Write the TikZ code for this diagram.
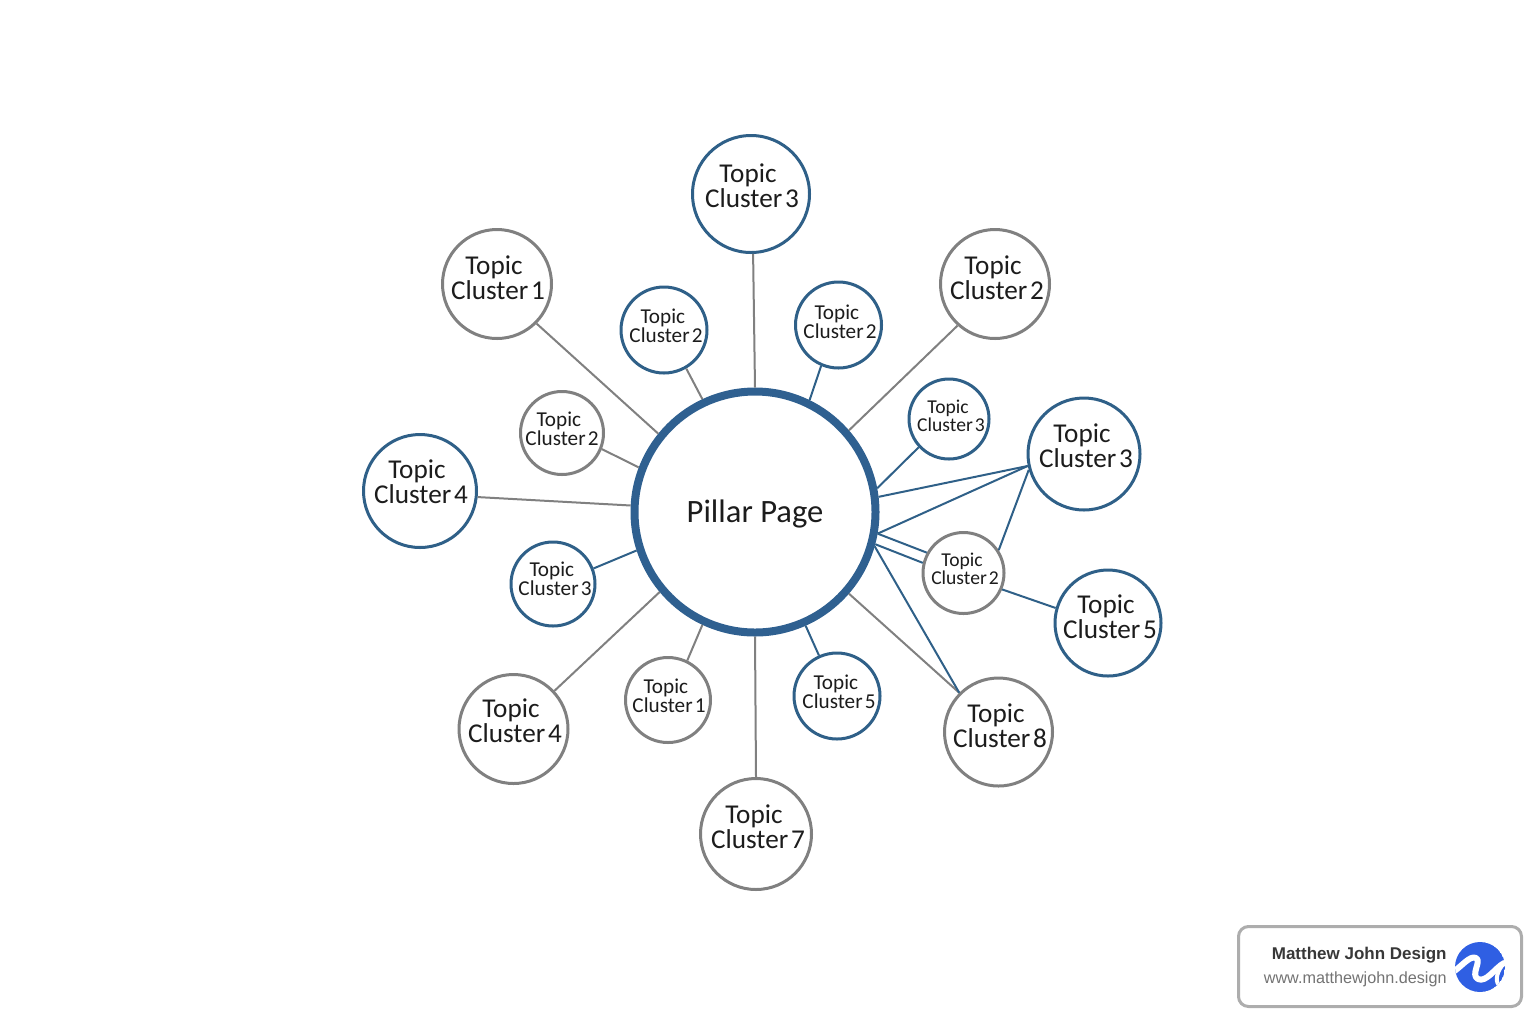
\documentclass[tikz,border=0pt]{standalone}
\usepackage{fontspec}
\setmainfont{Carlito}
\newfontfamily\badgefont{Liberation Sans}
\definecolor{cblue}{HTML}{2F6088}
\definecolor{cgray}{HTML}{808080}
\definecolor{pblue}{HTML}{2F6090}
\definecolor{ink}{HTML}{1C1C1C}
\definecolor{logoblue}{HTML}{2F5FE3}
\tikzset{
  ring/.style={circle,draw=#1,line width=1.5pt,inner sep=0pt,fill=white},
  pillarring/.style={circle,draw=pblue,line width=4pt,inner sep=0pt,minimum size=120.5pt},
  bigtxt/.style={text=ink,font=\fontsize{13.6}{12.6}\selectfont,align=center,inner sep=0pt},
  smalltxt/.style={text=ink,font=\fontsize{10.6}{9.6}\selectfont,align=center,inner sep=0pt},
  tinytxt/.style={text=ink,font=\fontsize{9.8}{9}\selectfont,align=center,inner sep=0pt},
  bedge/.style={draw=cblue,line width=1pt},
  gedge/.style={draw=cgray,line width=1pt},
}
% name, centre, diameter, colour, text style, text pos, number
\newcommand{\topicnode}[7]{%
  \node[ring=#4,minimum size=#3pt] (#1) at (#2) {};
  \node[#5] (#1t) at (#6) {Topic\kern .3em\\Cluster\kern .1em #7};
}
\begin{document}
\begin{tikzpicture}[x=0.5pt,y=-0.5pt]
\useasboundingbox (0,0) rectangle (1536,1024);
\node[pillarring] (pillar) at (755,512) {};
\node[text=ink,font=\fontsize{16.3}{17}\selectfont,inner sep=0pt] (pillart) at (755,514) {Pillar Page};
\topicnode{bt}{751,194}{58.5}{cblue}{bigtxt}{752,186}{3}
\topicnode{bl}{497,284}{54.5}{cgray}{bigtxt}{498,278}{1}
\topicnode{br}{995,284}{54.5}{cgray}{bigtxt}{997,278}{2}
\topicnode{bf}{420,491}{56.5}{cblue}{bigtxt}{421,482}{4}
\topicnode{bg}{1084,454}{56}{cblue}{bigtxt}{1086,446}{3}
\topicnode{bs}{1108,623}{53}{cblue}{bigtxt}{1110,617}{5}
\topicnode{be}{998.5,732}{54}{cgray}{bigtxt}{1000,726}{8}
\topicnode{bv}{756,834}{55.5}{cgray}{bigtxt}{758,827}{7}
\topicnode{bh}{513.5,729}{54.5}{cgray}{bigtxt}{515,721}{4}
\topicnode{sa}{664,330}{43}{cblue}{smalltxt}{666,326}{2}
\topicnode{sb}{838.5,325}{43}{cblue}{smalltxt}{840,322}{2}
\topicnode{sc}{949,419}{40}{cblue}{tinytxt}{951,416}{3}
\topicnode{sd}{562,433}{41.5}{cgray}{smalltxt}{562,429}{2}
\topicnode{se}{553,584}{42}{cblue}{smalltxt}{555,579}{3}
\topicnode{sf}{668,700}{42.5}{cgray}{smalltxt}{669,696}{1}
\topicnode{sg}{837,696}{43}{cblue}{smalltxt}{839,692}{5}
\topicnode{sh}{963.5,573}{40.5}{cgray}{tinytxt}{965,569}{2}
% connectors
\draw[gedge] (bt.-88) -- (pillar.90.5);
\draw[gedge] (bl.-45) -- (pillar.141.2);
\draw[gedge] (br.228) -- (pillar.41.4);
\draw[gedge] (sa.-60) -- (pillar.115.3);
\draw[bedge] (sb.247.5) -- (pillar.64.7);
\draw[bedge] (sc.223) -- (pillar.11);
\draw[gedge] (sd.-22.5) -- (pillar.159.4);
\draw[gedge] (bf.-6) -- (pillar.177.7);
\draw[bedge] (se.21) -- (pillar.198.9);
\draw[gedge] (bh.43.6) -- (pillar.220.1);
\draw[gedge] (sf.64) -- (pillar.245.9);
\draw[gedge] (bv.90) -- (pillar.270);
\draw[bedge] (sg.114) -- (pillar.294.3);
\draw[gedge] (be.135.7) -- (pillar.-41.1);
\draw[bedge] (be.135.7) -- (pillar.-16.7);
\draw[bedge] (bg.192) -- (pillar.7.4);
\draw[bedge] (bg.192) -- (pillar.-10);
\draw[bedge] (bg.196) -- (sh.33.7);
\draw[bedge] (sh.151.6) -- (pillar.-10);
\draw[bedge] (sh.166) -- (pillar.-15.8);
\draw[bedge] (sh.-23) -- (bs.164);
% badge
\node[draw=black!32,line width=1.5pt,rounded corners=5pt,minimum width=141.5pt,minimum height=40pt,inner sep=0pt,fill=white] (badge) at (1380,966.5) {};
\node[anchor=east,inner sep=0pt,text=black!78,font=\badgefont\bfseries\fontsize{8.5}{9}\selectfont] (bname) at (1447,955) {Matthew John Design};
\node[anchor=east,inner sep=0pt,text=black!55,font=\badgefont\fontsize{8.1}{9}\selectfont] (burl) at (1447,979) {www.matthewjohn.design};
\begin{scope}
\clip (1480,967) circle[radius=12.5pt];
\fill[logoblue] (1480,967) circle[radius=12.5pt];
\draw[white,line width=3pt,line cap=round,line join=round] (1453,972) .. controls (1462,966) and (1470,955) .. (1476,958) .. controls (1482,961) and (1470,975) .. (1478,979) .. controls (1486,983) and (1495,968) .. (1504,963);
\draw[white,line width=2pt,line cap=round] (1504,963) .. controls (1498,970) and (1494,980) .. (1499,985);
\end{scope}
\end{tikzpicture}
\end{document}
